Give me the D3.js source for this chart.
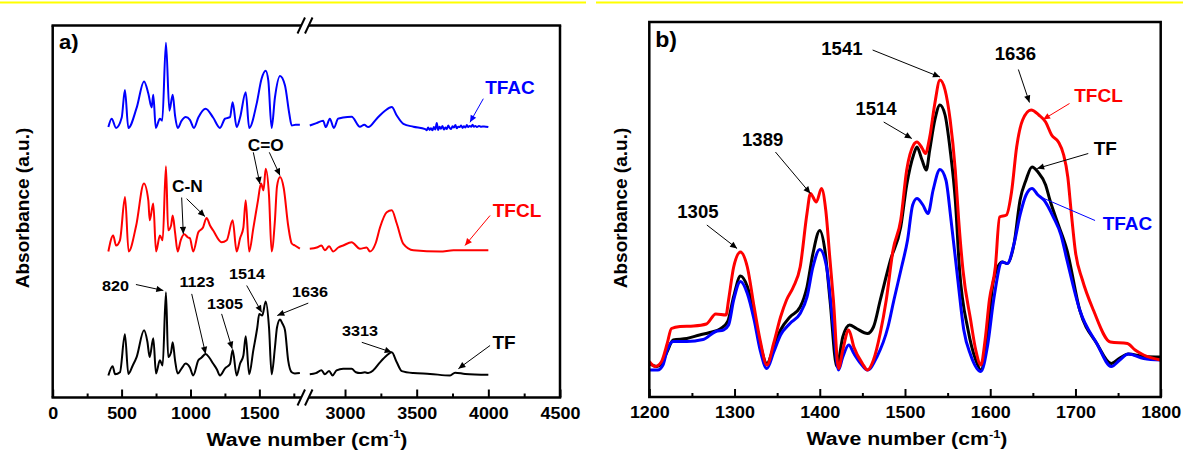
<!DOCTYPE html>
<html><head><meta charset="utf-8">
<script src="https://cdn.jsdelivr.net/npm/d3@7/dist/d3.min.js"></script>
<style>
html,body{margin:0;padding:0;background:#fff;}
svg text{font-family:"Liberation Sans",Arial,Helvetica,sans-serif;font-weight:bold;}
</style></head><body>
<svg id="chart" width="1183" height="460" xmlns="http://www.w3.org/2000/svg"></svg>
<script>
// ================= DATA =================
const seriesNames = ["TF", "TFCL", "TFAC"];
const seriesColors = ["#000000", "#ff0000", "#0000ff"];

// ---- panel a: full FTIR spectra (wavenumber, absorbance a.u.), stacked with offsets
const offsetsA = [5.5, 36.5, 67.4];
const tfLowA = [[404,0],[435,2.3],[453,0.3],[488,0.8],[524,10.3],[549,0.4],[581,2.5],[609,4.6],[663,11.3],[687,8.5],[704,4.6],[730,9.3],[750,0.5],[778,3.8],[798,2.5],[822,20.8],[838,4.6],[859,5.8],[871,8.3],[888,3.8],[907,0.5],[936,1.8],[965,3],[996,2],[1020,0],[1057,3.8],[1081,4.5],[1110,5.4],[1136,4.5],[1164,3],[1192,1.5],[1214,0],[1251,1.8],[1287,2.9],[1306,6.4],[1335,0],[1360,3],[1384,5],[1401,9.8],[1426,0.3],[1456,6.3],[1485,12],[1499,15.4],[1521,15],[1546,18.5],[1570,12],[1589,0.3],[1613,7],[1628,12],[1650,14],[1667,13],[1686,11.3],[1709,3.8],[1735,0.8],[1758,0.5],[1794,0.6]];
const tfHighA = [[2754,0.3],[2796,0.6],[2836,1.3],[2859,0.3],[2889,1.1],[2913,0],[2941,1.3],[2987,1.7],[3046,1.7],[3076,0.8],[3104,0.6],[3139,0.8],[3162,0.6],[3197,1.3],[3244,3.3],[3291,5],[3326,5.8],[3361,3.3],[3396,1.1],[3477,0.6],[3593,0.4],[3733,0],[3768,0.7],[3838,0.4],[4000,0.2]];
const tfclLowA = [[404,0],[439,4],[460,1.5],[488,2.8],[525,13.6],[551,0],[606,6.5],[662,17],[694,12.8],[704,7.8],[730,12],[750,0],[778,4],[798,2.8],[822,21.3],[838,5.3],[859,6.5],[871,9],[888,4.8],[907,0],[929,2.8],[955,4.3],[982,3.5],[996,3.3],[1020,0],[1057,4.8],[1091,6],[1117,8.4],[1142,6.5],[1164,5.3],[1226,2.3],[1263,2.8],[1306,7.8],[1335,0],[1360,3.3],[1384,6],[1401,12.8],[1426,0],[1456,5.8],[1490,12.8],[1512,17],[1530,15.3],[1546,20.7],[1570,14],[1589,0],[1613,7.8],[1628,16.3],[1650,18.6],[1677,15.8],[1709,6.5],[1735,2],[1758,1.5],[1794,0.7]];
const tfclHighA = [[2754,0.7],[2803,1],[2836,1.5],[2859,0.3],[2889,1.3],[2917,0],[2953,1],[2987,1.5],[3046,2.3],[3104,0.7],[3151,1],[3174,0],[3213,2],[3244,6],[3291,9.8],[3326,10.3],[3361,7],[3407,1.9],[3477,0.3],[3663,0],[3757,0.3],[4000,0.3]];
const tfacLowA = [[404,0.2],[428,2.3],[460,0],[501,2.6],[524,9.5],[549,0],[609,5],[663,11.6],[694,8.6],[718,5.1],[730,8.3],[748,0],[778,2.3],[795,1.8],[822,21.3],[847,4.3],[871,8.3],[888,3.1],[907,0],[936,1.8],[965,2.7],[996,2],[1025,0],[1057,2.6],[1110,4.8],[1164,2.6],[1214,0],[1251,2.3],[1287,2.7],[1306,6.4],[1335,0.2],[1360,2.6],[1401,8.9],[1426,0],[1480,6],[1516,12.3],[1546,14.3],[1565,11.8],[1589,0],[1613,7.6],[1650,13],[1686,10.6],[1717,3.6],[1735,0.6],[1763,0.8],[1794,0.8]];
const tfacHighA = [[2754,0.6],[2801,1.2],[2847,1.8],[2866,0.2],[2894,2.3],[2922,0],[2952,2.3],[2987,2.6],[3046,2.8],[3104,0.3],[3134,0.8],[3162,0.2],[3221,2.3],[3279,4.3],[3326,5.2],[3361,3.1],[3407,1],[3477,0.3],[3560,-0.3],[3570,-0.6],[3580,0.1],[3590,-0.5],[3600,-0.1],[3610,-0.6],[3620,0.2],[3630,-0.4],[3640,1.2],[3650,-0.5],[3660,0.3],[3670,-0.2],[3680,0.5],[3690,-0.4],[3700,0.1],[3710,-0.3],[3720,0.6],[3730,0],[3740,-0.3],[3750,0.4],[3760,0.1],[3770,0.7],[3780,-0.1],[3790,0.3],[3800,0.2],[3810,0.6],[3820,0],[3830,0.4],[3840,0.1],[3850,0.7],[3860,0.2],[3870,0.5],[3880,0.3],[3890,0.8],[3900,0.3],[3910,0.5],[3920,0.2],[3935,0.5],[3950,0.3],[3970,0.35],[4000,0.2]];

// panel a axis ticks
const ticksAL = [0, 500, 1000, 1500];
const minorAL = [250, 750, 1250, 1750];
const ticksAR = [3000, 3500, 4000, 4500];
const minorAR = [3250, 3750, 4250];

// ---- panel b: 1200-1800 region
const tfB = [[1200,6.7],[1209,6.1],[1214,6.6],[1221,9.1],[1228,11.4],[1244,11.7],[1259,12.4],[1271,12.9],[1284,13.7],[1292,15.1],[1299,20.1],[1307,24.2],[1315,22.1],[1323,16.7],[1330,10.7],[1338,6.7],[1346,10],[1354,13.4],[1365,16],[1377,18],[1385,22],[1392,28.7],[1400,33.3],[1406,29.4],[1412,19.4],[1420,6.1],[1427,12],[1435,14.4],[1443,13.7],[1456,12.7],[1463,14],[1471,19.4],[1483,27.4],[1495,34],[1502,42.4],[1510,48.4],[1514,50],[1520,47.4],[1525,45.4],[1529,49.4],[1535,55.4],[1541,58.4],[1547,56.4],[1553,49.4],[1559,39.4],[1564,25.4],[1574,13.4],[1583,7.4],[1589,5.4],[1596,11.4],[1604,23.4],[1614,27],[1620,26.7],[1628,30.7],[1635,39.4],[1642,43.4],[1649,46],[1656,45],[1665,42.4],[1670,39.4],[1680,34.4],[1690,29.4],[1705,17.4],[1725,10.7],[1742,6.7],[1752,7.8],[1762,8.6],[1780,8.1],[1800,8]];
const tfclB = [[1200,7.1],[1207,6.1],[1214,7],[1221,10.7],[1226,13.7],[1236,14.1],[1252,14.2],[1267,14.6],[1278,16.6],[1290,16.4],[1293,19.4],[1299,26],[1307,29],[1315,26],[1323,18],[1330,11.4],[1338,6.4],[1346,10.8],[1354,16],[1361,19.4],[1369,22],[1377,26],[1385,36.7],[1389,40.7],[1396,39],[1402,41.7],[1407,37.4],[1412,27.4],[1416,19.4],[1422,5.7],[1427,9.4],[1434,13.4],[1440,10],[1450,6.7],[1456,5.4],[1463,7.4],[1471,12.8],[1478,19.4],[1486,29.4],[1495,35.4],[1502,45.4],[1510,50.4],[1514,51],[1520,49.8],[1524,48.7],[1529,52],[1535,58.7],[1541,63.4],[1547,61.4],[1553,55.4],[1559,45.4],[1563,35.4],[1568,25.4],[1577,15.4],[1583,9.4],[1589,6.4],[1594,11.4],[1599,19.4],[1606,26],[1611,36],[1619,36.4],[1625,41],[1631,50],[1638,55.4],[1648,57.4],[1657,56.4],[1665,55],[1672,52.4],[1680,51],[1686,48.5],[1691,44],[1695,37],[1700,29],[1708,23.5],[1721,17.4],[1741,11],[1761,10.7],[1770,9.4],[1780,8.4],[1800,7.4]];
const tfacB = [[1200,5.4],[1210,5.4],[1216,6.4],[1221,9.4],[1228,11.1],[1244,11.1],[1263,11.5],[1278,13.1],[1287,13.4],[1293,14.4],[1299,19.4],[1307,23.1],[1315,20.7],[1323,15.4],[1330,9.4],[1338,5.7],[1346,9],[1354,12.4],[1365,14.7],[1377,16.7],[1385,20],[1392,26],[1400,29.5],[1408,26],[1416,14],[1422,5.4],[1427,8],[1434,10.4],[1440,8.7],[1448,6.7],[1456,5.4],[1467,8],[1480,14],[1487,19.4],[1496,26],[1503,31.4],[1509,38.4],[1514,39.7],[1521,38.4],[1527,36.7],[1533,41.4],[1541,45.5],[1548,43.4],[1554,35.4],[1562,23.4],[1569,13.4],[1577,8.4],[1589,5.1],[1597,10.4],[1604,19.4],[1614,27],[1620,26.7],[1628,30.7],[1635,36.4],[1642,40.4],[1649,41.7],[1656,40.4],[1663,39.4],[1674,36],[1683,32.4],[1690,27.4],[1705,17.4],[1725,10.7],[1742,6.1],[1752,7.4],[1762,8.6],[1780,7.7],[1800,7.4]];
const ticksB = [1200, 1300, 1400, 1500, 1600, 1700, 1800];
const minorB = [1250, 1350, 1450, 1550, 1650, 1750];

// annotations (data coordinates)
const annotA = [
  {t:"820",  x:456,  y:26.6,  from:[604,28.25], to:[803,26.75], c:0},
  {t:"1123", x:1047, y:27.75, from:[1009,25.9], to:[1110,10.9], c:0},
  {t:"1305", x:1250, y:22.2,  from:[1226,20.9], to:[1303,12.2], c:0},
  {t:"1514", x:1410, y:29.7,  from:[1408,28],   to:[1517,21.3], c:0},
  {t:"1636", x:1867, y:25.25, from:[1855,23.6], to:[1630,20.5], c:0},
  {t:"C-N",  x:978,  y:51.3,  arrows:[[[936,50],[948,40.9]],[[972,49.7],[1105,45.25]]], c:0},
  {t:"C=O",  x:1546, y:61.75, arrows:[[[1456,61.3],[1504,53.4]],[[1572,61.3],[1650,55.5]]], c:0}
];
const annotAR = [
  {t:"3313", x:3105, y:15.5, from:[3117,13.8], to:[3326,11.3], c:0, big:false},
  {t:"TF",   x:4110, y:12.2, from:[4012,13],   to:[3791,7.2],  c:0, big:true},
  {t:"TFCL", x:4200, y:45.25,from:[4012,45.5], to:[3837,38],   c:1, big:true},
  {t:"TFAC", x:4151, y:76,   from:[3965,74.7], to:[3872,68.8], c:2, big:true}
];
const annotB = [
  {t:"1541", x:1426, y:68.5, from:[1462,69.4], to:[1541,64],   c:0, big:false},
  {t:"1514", x:1466, y:56.5, from:[1475,55],   to:[1508,51.7], c:0, big:false},
  {t:"1389", x:1333, y:50.2, from:[1348,49],   to:[1389,40.7], c:0, big:false},
  {t:"1305", x:1257, y:35.9, from:[1267.5,34.4], to:[1303,29.7], c:0, big:false},
  {t:"1636", x:1629.5, y:67.4, from:[1633,65.5], to:[1646,58.9], c:0, big:false},
  {t:"TFCL", x:1727, y:59,   from:[1693,58.7], to:[1662,55.5], c:1, big:true},
  {t:"TF",   x:1735, y:48.4, from:[1715,48.7], to:[1655,45.7], c:0, big:true},
  {t:"TFAC", x:1761, y:33.5, from:[1723,35.3], to:[1659,40],   c:2, big:true, nohead:true}
];

// ================= DRAWING =================
const svg = d3.select("#chart");
svg.append("rect").attr("width",1183).attr("height",460).attr("fill","#fff");

// yellow rules at top
svg.append("line").attr("x1",0).attr("x2",586).attr("y1",2.5).attr("y2",2.5).attr("stroke","#ffff00").attr("stroke-width",2);
svg.append("line").attr("x1",596).attr("x2",1183).attr("y1",2.5).attr("y2",2.5).attr("stroke","#ffff00").attr("stroke-width",2);

const defs = svg.append("defs");
seriesColors.forEach((c,i)=>{
  defs.append("marker").attr("id","arr"+i).attr("viewBox","0 0 10 10")
    .attr("refX",10).attr("refY",5).attr("markerWidth",8).attr("markerHeight",7)
    .attr("markerUnits","userSpaceOnUse").attr("orient","auto")
    .append("path").attr("d","M0,0.5 L10,5 L0,9.5 Z").attr("fill",c);
});

function label(g, x, y, str, size, color, sx, anchor){
  return g.append("text")
    .attr("transform",`translate(${x},${y}) scale(${sx},1)`)
    .attr("text-anchor",anchor||"middle").attr("font-size",size)
    .attr("fill",color).text(str);
}
function arrow(g, x1,y1,x2,y2, ci, head){
  const l = g.append("line").attr("x1",x1).attr("y1",y1).attr("x2",x2).attr("y2",y2)
    .attr("stroke",seriesColors[ci]).attr("stroke-width",1);
  if(head!==false) l.attr("marker-end",`url(#arr${ci})`);
}
function styleAxis(ax, fs, sx){
  ax.select(".domain").remove();
  ax.selectAll("line").attr("stroke","#000").attr("stroke-width",2);
  ax.selectAll("text").attr("font-size",fs).attr("fill","#000").attr("transform",`scale(${sx},1)`);
}
function xTitle(g, cx, y){
  const t = g.append("text").attr("transform",`translate(${cx},${y}) scale(1.12,1)`)
    .attr("text-anchor","middle").attr("font-size",19).attr("fill","#000");
  t.append("tspan").text("Wave number (cm");
  t.append("tspan").attr("font-size",11.5).attr("dy",-7.5).text("-1");
  t.append("tspan").attr("dy",7.5).text(")");
}
function yTitle(g, x, cy){
  g.append("text").attr("transform",`translate(${x},${cy}) rotate(-90)`)
    .attr("text-anchor","middle").attr("font-size",19).attr("fill","#000").text("Absorbance (a.u.)");
}

// ---------- Panel a ----------
const gA = svg.append("g");
const aLeft = 52.7, aRight = 560, aTop = 25.5, aBot = 397.5;
const xAL = d3.scaleLinear().domain([0,1800]).range([aLeft, 300.7]);
const xAR = d3.scaleLinear().domain([2750,4500]).range([309.2, aRight]);
const yA  = d3.scaleLinear().domain([0,93]).range([aBot, aTop]);

const lowA  = [tfLowA, tfclLowA, tfacLowA];
const highA = [tfHighA, tfclHighA, tfacHighA];
seriesNames.forEach((n,i)=>{
  const off = offsetsA[i];
  const lL = d3.line().x(d=>xAL(d[0])).y(d=>yA(d[1]+off)).curve(d3.curveMonotoneX);
  const lR = d3.line().x(d=>xAR(d[0])).y(d=>yA(d[1]+off)).curve(d3.curveMonotoneX);
  gA.append("path").attr("d",lL(lowA[i])).attr("fill","none").attr("stroke",seriesColors[i]).attr("stroke-width",2).attr("stroke-linejoin","round");
  gA.append("path").attr("d",lR(highA[i])).attr("fill","none").attr("stroke",seriesColors[i]).attr("stroke-width",2).attr("stroke-linejoin","round");
});

// frame with axis break
const bx1 = 301, bx2 = 309;
const fr = gA.append("g").attr("stroke","#000").attr("stroke-width",2.5).attr("fill","none");
fr.append("line").attr("x1",aLeft).attr("x2",aLeft).attr("y1",aTop).attr("y2",aBot);
fr.append("line").attr("x1",aRight).attr("x2",aRight).attr("y1",aTop).attr("y2",aBot);
fr.append("line").attr("x1",aLeft-1.2).attr("x2",bx1).attr("y1",aTop).attr("y2",aTop);
fr.append("line").attr("x1",bx2).attr("x2",aRight+1.2).attr("y1",aTop).attr("y2",aTop);
fr.append("line").attr("x1",aLeft-1.2).attr("x2",bx1).attr("y1",aBot).attr("y2",aBot);
fr.append("line").attr("x1",bx2).attr("x2",aRight+1.2).attr("y1",aBot).attr("y2",aBot);
[aTop, aBot].forEach(yy=>{
  fr.append("line").attr("x1",297.5).attr("y1",yy+8).attr("x2",305).attr("y2",yy-8).attr("stroke-width",2);
  fr.append("line").attr("x1",305).attr("y1",yy+8).attr("x2",312.5).attr("y2",yy-8).attr("stroke-width",2);
});

// axes
const fmt = d3.format("d");
const PAD = 10;
styleAxis(gA.append("g").attr("transform",`translate(0,${aBot})`)
  .call(d3.axisBottom(xAL).tickValues(ticksAL).tickSizeInner(-8).tickSizeOuter(0).tickPadding(PAD).tickFormat(fmt)), 16, 1.12);
styleAxis(gA.append("g").attr("transform",`translate(0,${aBot})`)
  .call(d3.axisBottom(xAL).tickValues(minorAL).tickSizeInner(-4).tickSizeOuter(0).tickFormat("")), 15, 1);
styleAxis(gA.append("g").attr("transform",`translate(0,${aBot})`)
  .call(d3.axisBottom(xAR).tickValues(ticksAR).tickSizeInner(-8).tickSizeOuter(0).tickPadding(PAD).tickFormat(fmt)), 16, 1.12);
styleAxis(gA.append("g").attr("transform",`translate(0,${aBot})`)
  .call(d3.axisBottom(xAR).tickValues(minorAR).tickSizeInner(-4).tickSizeOuter(0).tickFormat("")), 15, 1);

xTitle(gA, 307, 445.5);
yTitle(gA, 29, 208);
label(gA, xAL(46), yA(87.25), "a)", 21, "#000", 1.05, "start");

annotA.forEach(a=>{
  const isCN = a.t==="C-N"||a.t==="C=O";
  label(gA, xAL(a.x), yA(a.y), a.t, isCN?16:15, seriesColors[a.c], 1.08);
  if(a.arrows){
    a.arrows.forEach(ar=>arrow(gA, xAL(ar[0][0]), yA(ar[0][1]), xAL(ar[1][0]), yA(ar[1][1]), a.c));
  } else {
    arrow(gA, xAL(a.from[0]), yA(a.from[1]), xAL(a.to[0]), yA(a.to[1]), a.c);
  }
});
annotAR.forEach(a=>{
  label(gA, xAR(a.x), yA(a.y), a.t, a.big?19:15, seriesColors[a.c], a.big?1:1.08);
  arrow(gA, xAR(a.from[0]), yA(a.from[1]), xAR(a.to[0]), yA(a.to[1]), a.c);
});

// ---------- Panel b ----------
const gB = svg.append("g");
const bLeft = 649.3, bRight = 1160.7, bTop = 22, bBot = 397;
const xB = d3.scaleLinear().domain([1200,1800]).range([bLeft,bRight]);
const yB = d3.scaleLinear().domain([0,75]).range([bBot,bTop]);

const clip = defs.append("clipPath").attr("id","clipB");
clip.append("rect").attr("x",bLeft).attr("y",bTop).attr("width",bRight-bLeft).attr("height",bBot-bTop);

const lineB = d3.line().x(d=>xB(d[0])).y(d=>yB(d[1])).curve(d3.curveMonotoneX);
const dataB = [tfB, tfclB, tfacB];
[0,2,1].forEach(i=>{
  gB.append("path").attr("d",lineB(dataB[i])).attr("fill","none").attr("clip-path","url(#clipB)")
    .attr("stroke",seriesColors[i]).attr("stroke-width",3).attr("stroke-linejoin","round");
});

gB.append("rect").attr("x",bLeft).attr("y",bTop).attr("width",bRight-bLeft).attr("height",bBot-bTop)
  .attr("fill","none").attr("stroke","#000").attr("stroke-width",2.5);

styleAxis(gB.append("g").attr("transform",`translate(0,${bBot})`)
  .call(d3.axisBottom(xB).tickValues(ticksB).tickSizeInner(-8).tickSizeOuter(0).tickPadding(PAD).tickFormat(fmt)), 16, 1.12);
styleAxis(gB.append("g").attr("transform",`translate(0,${bBot})`)
  .call(d3.axisBottom(xB).tickValues(minorB).tickSizeInner(-4).tickSizeOuter(0).tickFormat("")), 15, 1);

xTitle(gB, 907, 445);
yTitle(gB, 627, 208);
label(gB, xB(1207), yB(70), "b)", 22, "#000", 1.05, "start");

annotB.forEach(a=>{
  label(gB, xB(a.x), yB(a.y), a.t, a.big?19:18, seriesColors[a.c], a.big?1:1.03);
  arrow(gB, xB(a.from[0]), yB(a.from[1]), xB(a.to[0]), yB(a.to[1]), a.c, !a.nohead);
});
</script>
</body></html>
